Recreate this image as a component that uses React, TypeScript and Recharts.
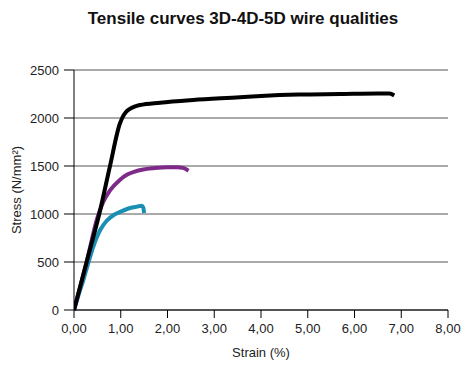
import { LineChart, Line, XAxis, YAxis, CartesianGrid } from 'recharts'

// strain (%) / stress (N/mm²)
const strain5D = [0, 0.27, 0.54, 0.77, 0.98, 1.04, 1.1, 1.18, 1.28, 1.41, 1.84, 2.55, 3.55, 4.0, 4.8, 5.7, 6.5, 6.75, 6.85]
const stress5D = [0, 500, 1000, 1500, 1940, 2010, 2055, 2090, 2115, 2135, 2160, 2188, 2216, 2230, 2245, 2250, 2255, 2255, 2235]

const strain4D = [0, 0.27, 0.5, 0.62, 0.77, 0.98, 1.13, 1.3, 1.48, 1.7, 2.0, 2.2, 2.33, 2.45]
const stress4D = [0, 500, 960, 1120, 1245, 1355, 1408, 1442, 1463, 1477, 1488, 1488, 1480, 1451]

const strain3D = [0, 0.1, 0.2, 0.3, 0.41, 0.56, 0.7, 0.85, 1.0, 1.2, 1.35, 1.45, 1.48, 1.5]
const stress3D = [0, 160, 312, 480, 656, 833, 930, 990, 1025, 1063, 1077, 1085, 1070, 1010]

const xTicks = [0, 1, 2, 3, 4, 5, 6, 7, 8]
const yTicks = [0, 500, 1000, 1500, 2000, 2500]

const toPoints = (xs: number[], ys: number[]) => xs.map((x, i) => ({ strain: x, stress: ys[i] }))

const font = '"Liberation Sans", Arial, sans-serif'

export default function App() {
  return (
    <div style={{ position: 'absolute', left: 0, top: 0, width: 471, height: 366, background: '#fff', fontFamily: font }}>
      <div
        style={{
          position: 'absolute',
          left: 0,
          top: 9,
          width: 486,
          textAlign: 'center',
          fontSize: 17,
          lineHeight: '20px',
          fontWeight: 'bold',
          color: '#111',
        }}
      >
        Tensile curves 3D-4D-5D wire qualities
      </div>
      <LineChart width={471} height={366} margin={{ top: 70, right: 23, bottom: 6, left: 0 }}>
        <CartesianGrid horizontal vertical={false} stroke="#555" strokeWidth={1} />
        <XAxis
          type="number"
          dataKey="strain"
          domain={[0, 8]}
          ticks={xTicks}
          allowDataOverflow
          height={50}
          tickSize={8}
          tickMargin={6}
          stroke="#000"
          tick={{ fill: '#222', fontSize: 13, fontFamily: font }}
          tickFormatter={(v: number) => v.toFixed(2).replace('.', ',')}
          label={{ value: 'Strain (%)', position: 'insideBottom', offset: 3, fill: '#222', fontSize: 13, fontFamily: font }}
        />
        <YAxis
          type="number"
          dataKey="stress"
          domain={[0, 2500]}
          ticks={yTicks}
          width={74}
          tickSize={10}
          tickMargin={5}
          stroke="#000"
          tick={{ fill: '#222', fontSize: 13, fontFamily: font }}
          label={{
            value: 'Stress (N/mm²)',
            angle: -90,
            position: 'insideLeft',
            offset: 16,
            fill: '#222',
            fontSize: 13,
            fontFamily: font,
            style: { textAnchor: 'middle' },
          }}
        />
        <Line data={toPoints(strain3D, stress3D)} dataKey="stress" type="monotone" stroke="#1b8fb3" strokeWidth={4} dot={false} isAnimationActive={false} />
        <Line data={toPoints(strain4D, stress4D)} dataKey="stress" type="monotone" stroke="#7e2a89" strokeWidth={4} dot={false} isAnimationActive={false} />
        <Line data={toPoints(strain5D, stress5D)} dataKey="stress" type="monotone" stroke="#000" strokeWidth={4} dot={false} isAnimationActive={false} />
      </LineChart>
    </div>
  )
}
